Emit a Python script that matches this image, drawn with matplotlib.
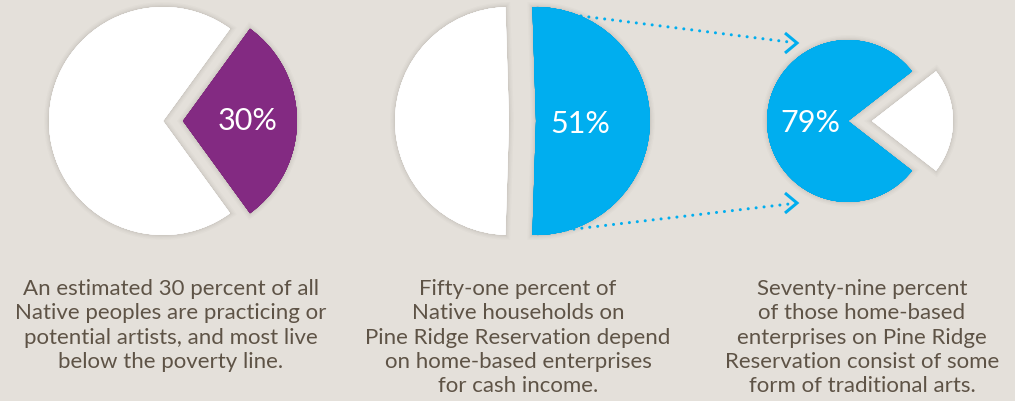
import matplotlib
matplotlib.use("Agg")
import matplotlib.pyplot as plt
import matplotlib.patheffects as pe

# ---- data ----
pie1_values = [30, 70]
pie2_values = [51, 49]
pie3_values = [21, 79]
pie1_label = 30
pie2_label = 51
pie3_label = 79
captions = [
    ["An estimated 30 percent of all", "Native peoples are practicing or",
     "potential artists, and most live", "below the poverty line."],
    ["Fifty-one percent of", "Native households on",
     "Pine Ridge Reservation depend", "on home-based enterprises",
     "for cash income."],
    ["Seventy-nine percent", "of those home-based",
     "enterprises on Pine Ridge", "Reservation consist of some",
     "form of traditional arts."],
]

BG = "#e4e0da"
PURPLE = "#832a82"
BLUE = "#00aeef"
WHITE = "#ffffff"
TXT = "#5e5346"

W, H = 1015, 401
fig = plt.figure(figsize=(W / 100, H / 100), dpi=100, facecolor=BG)
ax = fig.add_axes([0, 0, 1, 1])
ax.set_facecolor(BG)

def Y(py):
    return H - py

sc = (0.35, 0.3, 0.25)
shadow = [pe.withStroke(linewidth=7, foreground=sc + (0.025,)),
          pe.withStroke(linewidth=5, foreground=sc + (0.03,)),
          pe.withStroke(linewidth=3, foreground=sc + (0.04,)),
          pe.withStroke(linewidth=1.5, foreground=sc + (0.05,)),
          pe.Normal()]

def draw_pie(values, colors, center, radius, explode, start):
    wedges, _ = ax.pie(values, colors=colors, center=center, radius=radius,
                       explode=explode, startangle=start, counterclock=True,
                       wedgeprops=dict(linewidth=0))
    for w in wedges:
        w.set_path_effects(shadow)
    return wedges

# pie 1
draw_pie(pie1_values, [PURPLE, WHITE], (163, Y(121)), 114, [20, 0],
         -pie1_values[0] / sum(pie1_values) * 180)
# pie 2
draw_pie(pie2_values, [BLUE, WHITE], (509, Y(121)), 114, [27, 0],
         -pie2_values[0] / sum(pie2_values) * 180)
# pie 3
draw_pie(pie3_values, [WHITE, BLUE], (848, Y(121)), 81, [24, 0],
         -pie3_values[0] / sum(pie3_values) * 180)

lab_font = dict(family="Lato", fontsize=22, color="white",
                ha="center", va="center")
ax.text(248, Y(121), f"{pie1_label}%", **lab_font)
ax.text(580, Y(124), f"{pie2_label}%", **lab_font)
ax.text(810, Y(123), f"{pie3_label}%", **lab_font)

# dotted connectors with chevrons
for (x0, y0), (x1, y1) in [((573, 15), (789, 42)), ((566, 230), (789, 204))]:
    ax.plot([x0, x1], [Y(y0), Y(y1)], color=BLUE, lw=2.2,
            linestyle=(0, (0.01, 2.6)), dash_capstyle="round", solid_capstyle="round")
for tip in [(797, 43), (797, 203)]:
    tx, ty = tip
    ax.plot([tx - 12, tx, tx - 12], [Y(ty - 10), Y(ty), Y(ty + 10)],
            color=BLUE, lw=2.2, solid_capstyle="butt", solid_joinstyle="miter")

for cx, lines in zip([171, 518, 862], captions):
    for i, line in enumerate(lines):
        ax.text(cx, Y(295 + 24.3 * i), line, family="Lato", fontsize=16,
                color=TXT, ha="center", va="baseline")

ax.set_xlim(0, W)
ax.set_ylim(0, H)
ax.set_aspect("equal")
ax.axis("off")
fig.savefig("out.png", dpi=100, facecolor=BG)
